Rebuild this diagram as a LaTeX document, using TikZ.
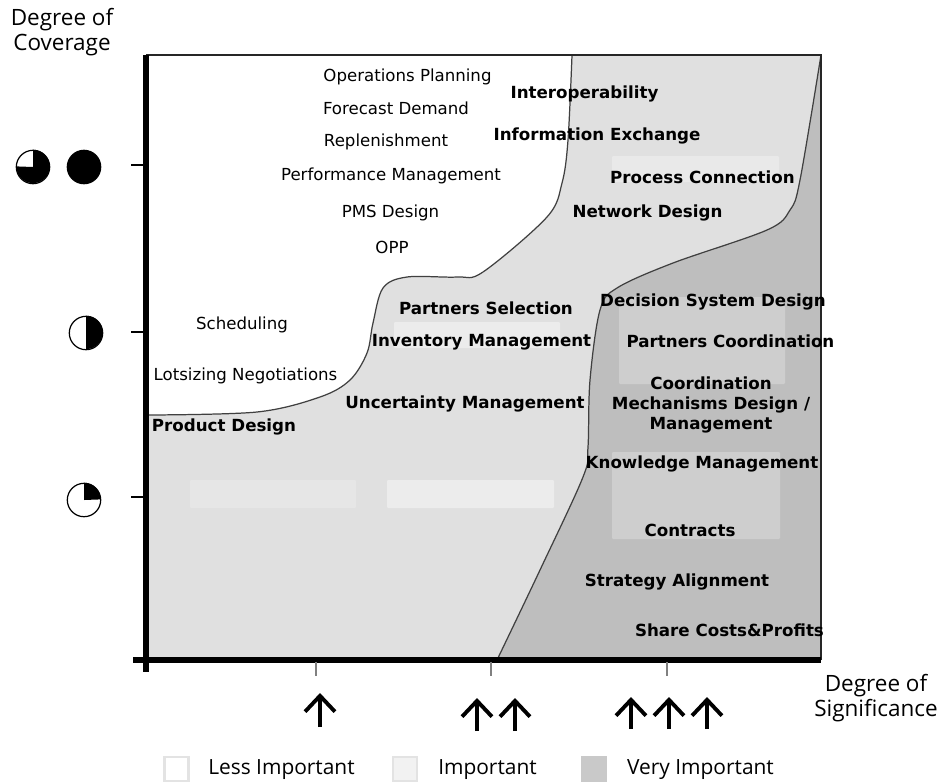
\documentclass[tikz,border=0pt]{standalone}
\usepackage{fontspec}
\setmainfont{DejaVu Sans}
\newfontfamily\axisfont{Open Sans}
\usetikzlibrary{arrows.meta}
\definecolor{midgray}{HTML}{E0E0E0}
\definecolor{darkgray}{HTML}{BEBEBE}
\tikzset{lowtext/.style={font=\fontsize{9.45}{10}\selectfont, inner sep=0pt, yshift=-.7pt},
         hightext/.style={font=\fontsize{9.5}{11.4}\selectfont\bfseries, inner sep=0pt, align=center, yshift=-.7pt},
         axistext/.style={font=\axisfont\fontsize{12.8}{14.2}\selectfont, inner sep=0pt, align=center},
         legendtext/.style={font=\axisfont\fontsize{11.9}{13}\selectfont, inner sep=0pt, yshift=-.8pt},
         legendbox/.style={draw=black!11, line width=1.6pt, minimum size=13.6pt, inner sep=0pt},
         icon/.style={draw, circle, line width=.7pt, minimum size=19pt, inner sep=0pt},
         upmark/.style={line width=2.4pt, -{Straight Barb[length=9pt, width=17pt, line width=2.2pt]}},
         axisline/.style={line width=3pt},
         scalemark/.style={line width=.7pt},
         softbox/.style={rounded corners=.6pt, inner sep=0pt},
        }

\begin{document}
\begin{tikzpicture}[x=0.02cm, y=-0.02cm]
        \useasboundingbox (0,0) rectangle (939,782);
        \fill[white] (0,0) rectangle (939,782);

        \fill[midgray] (146,55) rectangle (821,660);
        \fill[white] (146,55) -- (146,415) -- plot[smooth, tension=.55] coordinates {(147,415) (257,412) (320,397) (350,380) (367,353) (373,323) (383,288) (407,277) (457,277) (483,272) (547,217) (562,183) (568,140) (572,55)} -- cycle;
        \fill[darkgray] (497,660) -- plot[smooth, tension=.55] coordinates {(497,660) (540,570) (583,477) (588,447) (590,380) (600,310) (617,288) (673,263) (767,230) (790,210) (800,180) (821,55)} -- (821,660) -- cycle;

        \fill[softbox, fill=white, fill opacity=.2] (190,480) rectangle (356,508);
        \fill[softbox, fill=white, fill opacity=.4] (387,480) rectangle (554,508);
        \fill[softbox, fill=white, fill opacity=.4] (394,322) rectangle (560,348);
        \fill[softbox, fill=white, fill opacity=.3] (612,156) rectangle (779,182);
        \fill[softbox, fill=white, fill opacity=.25] (619,297) rectangle (785,384);
        \fill[softbox, fill=white, fill opacity=.25] (612,452) rectangle (780,539);

        \draw[line width=.7pt, black!75] plot[smooth, tension=.55] coordinates {(147,415) (257,412) (320,397) (350,380) (367,353) (373,323) (383,288) (407,277) (457,277) (483,272) (547,217) (562,183) (568,140) (572,55)};
        \draw[line width=.7pt, black!75] plot[smooth, tension=.55] coordinates {(497,660) (540,570) (583,477) (588,447) (590,380) (600,310) (617,288) (673,263) (767,230) (790,210) (800,180) (821,55)};

        \draw[line width=1pt, black!85] (146,55) -- (821,55) -- (821,660);
        \draw[axisline] (146,55) -- (146,672);
        \draw[axisline] (133,660) -- (821,660);
        \foreach \ypos in {165,332,497}
            \draw[scalemark] (131,\ypos) -- (146,\ypos);
        \foreach \xpos in {316,491,667}
            \draw[scalemark, black!50] (\xpos,662) -- (\xpos,676);

        \node[axistext](coverage)at(62,32){Degree of\\Coverage};
        \node[axistext](significance)at(876,698){Degree of\\Significance};

        \node[icon, fill](iconfull)at(84,167){};
        \node[icon](iconthree)at(33,167){};
        \fill (iconthree.center) -- (iconthree.north) arc[start angle=90, end angle=-180, radius=9.5pt] -- cycle;
        \node[icon](iconhalf)at(86,333){};
        \fill (iconhalf.north) arc[start angle=90, end angle=-90, radius=9.5pt] -- cycle;
        \node[icon](iconquarter)at(84,500){};
        \fill (iconquarter.center) -- (iconquarter.north) arc[start angle=90, end angle=0, radius=9.5pt] -- cycle;

        \node[lowtext](operations)at(407.5,76){Operations Planning};
        \node[lowtext](forecast)at(396,107){Forecast Demand};
        \node[lowtext](replenish)at(386,141){Replenishment};
        \node[lowtext](performance)at(391,175){Performance Management};
        \node[lowtext](pms)at(390.5,212){PMS Design};
        \node[lowtext](opp)at(392,246){OPP};
        \node[lowtext](scheduling)at(242,324){Scheduling};
        \node[lowtext](lotsizing)at(245.5,375){Lotsizing Negotiations};

        \node[hightext](interop)at(584.5,93){Interoperability};
        \node[hightext](information)at(597,135){Information Exchange};
        \node[hightext](process)at(702.5,176){Process Connection};
        \node[hightext](network)at(647.5,212){Network Design};
        \node[hightext](selection)at(486,307){Partners Selection};
        \node[hightext](inventory)at(481.5,341){Inventory Management};
        \node[hightext](uncertainty)at(465,403){Uncertainty Management};
        \node[hightext](product)at(224,426){Product Design};
        \node[hightext](decision)at(713,301){Decision System Design};
        \node[hightext](coordination)at(730.5,340){Partners Coordination};
        \node[hightext](mechanisms)at(711,404){Coordination\\Mechanisms Design /\\Management};
        \node[hightext](knowledge)at(702,463){Knowledge Management};
        \node[hightext](contracts)at(690,529){Contracts};
        \node[hightext](strategy)at(677,581){Strategy Alignment};
        \node[hightext](share)at(729.5,629){Share Costs\&Profits};

        \draw[upmark] (320,727) -- (320,693);
        \foreach \xpos in {477,515}
            \draw[upmark] (\xpos,731) -- (\xpos,698);
        \foreach \xpos in {631,669,707}
            \draw[upmark] (\xpos,729) -- (\xpos,697);

        \node[legendbox, fill=white](lessbox)at(176.5,769){};
        \node[legendbox, fill=black!5](impbox)at(405,769){};
        \node[legendbox, fill=black!21, draw=black!21](verybox)at(594,769){};
        \node[legendtext](lesstext)at(281.5,768){Less Important};
        \node[legendtext](imptext)at(487.5,768){Important};
        \node[legendtext](verytext)at(700.5,768){Very Important};
    \end{tikzpicture}
\end{document}
